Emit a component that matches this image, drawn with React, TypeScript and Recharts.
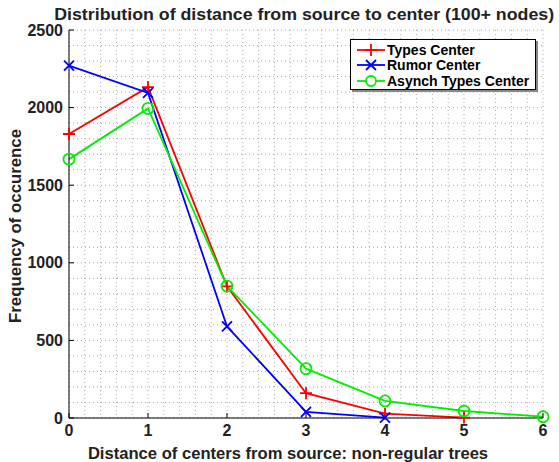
import { LineChart, Line, XAxis, YAxis, CartesianGrid } from 'recharts';

// distance of center from source vs. how often it happened
const distance = [0, 1, 2, 3, 4, 5, 6];
const typesCenter = [1830, 2132, 848, 160, 28, 3, null];
const rumorCenter = [2270, 2095, 590, 40, 3, null, null];
const asynchTypesCenter = [1668, 1995, 850, 318, 110, 45, 8];

const xTicks = [0, 1, 2, 3, 4, 5, 6];
const yTicks = [0, 500, 1000, 1500, 2000, 2500];
// matlab style minor grid
const xGrid = Array.from({ length: 31 }, (_, i) => i * 0.2);
const yGrid = Array.from({ length: 26 }, (_, i) => i * 100);

const data = distance.map((d, i) => ({
  d,
  types: typesCenter[i],
  rumor: rumorCenter[i],
  asynch: asynchTypesCenter[i],
}));

const font = '"Liberation Sans", Arial, sans-serif';
const RED = '#ff0000';
const BLUE = '#0000ff';
const GREEN = '#00ee00';

const plus = (color: string) => (p: any) => {
  if (p.cx == null || p.cy == null || p.value == null) return <g key={p.key ?? p.index} />;
  const { cx, cy } = p;
  return (
    <path key={p.key ?? p.index} d={`M${cx - 6},${cy}H${cx + 6}M${cx},${cy - 6}V${cy + 6}`} stroke={color} strokeWidth={1.8} fill="none" />
  );
};

const cross = (color: string) => (p: any) => {
  if (p.cx == null || p.cy == null || p.value == null) return <g key={p.key ?? p.index} />;
  const { cx, cy } = p;
  return (
    <path key={p.key ?? p.index} d={`M${cx - 5},${cy - 5}L${cx + 5},${cy + 5}M${cx - 5},${cy + 5}L${cx + 5},${cy - 5}`} stroke={color} strokeWidth={1.8} fill="none" />
  );
};

const ring = (color: string) => (p: any) => {
  if (p.cx == null || p.cy == null || p.value == null) return <g key={p.key ?? p.index} />;
  return <circle key={p.key ?? p.index} cx={p.cx} cy={p.cy} r={5.5} stroke={color} strokeWidth={1.8} fill="none" />;
};

const series = [
  { key: 'types', name: 'Types Center', color: RED, marker: 'plus' },
  { key: 'rumor', name: 'Rumor Center', color: BLUE, marker: 'cross' },
  { key: 'asynch', name: 'Asynch Types Center', color: GREEN, marker: 'ring' },
];

function LegendBox() {
  return (
    <div
      style={{
        position: 'absolute',
        left: 350,
        top: 39,
        width: 184,
        height: 49,
        border: '1px solid #000',
        background: '#fff',
        boxShadow: '2px 2px 0 #888',
        fontFamily: font,
        fontWeight: 'bold',
        fontSize: 14,
        color: '#000',
      }}
    >
      {series.map((s, i) => (
        <div key={s.key} style={{ position: 'absolute', left: 5, top: 2 + i * 15.5, height: 15, display: 'flex', alignItems: 'center', whiteSpace: 'nowrap' }}>
          <svg width={30} height={14} style={{ marginRight: 1 }}>
            <line x1={1} x2={29} y1={7} y2={7} stroke={s.color} strokeWidth={1.8} />
            {s.marker === 'plus' && <path d="M9,7H21M15,1V13" stroke={s.color} strokeWidth={1.8} />}
            {s.marker === 'cross' && <path d="M10,2L20,12M10,12L20,2" stroke={s.color} strokeWidth={1.8} />}
            {s.marker === 'ring' && <circle cx={15} cy={7} r={5} stroke={s.color} strokeWidth={1.8} fill="#fff" />}
          </svg>
          <span>{s.name}</span>
        </div>
      ))}
    </div>
  );
}

export default function App() {
  const tickStyle = { fontSize: 16, fontWeight: 'bold', fill: '#222', fontFamily: font };
  return (
    <div style={{ position: 'absolute', left: 0, top: 0, width: 559, height: 462, background: '#fff' }}>
      <div
        style={{
          position: 'absolute',
          left: 0,
          width: 559,
          paddingLeft: 49,
          boxSizing: 'border-box',
          top: 6,
          textAlign: 'center',
          fontFamily: font,
          fontWeight: 'bold',
          fontSize: 16,
          lineHeight: '18px',
          color: '#222',
          whiteSpace: 'nowrap',
        }}
      >
        <span style={{ display: 'inline-block', transform: 'scaleX(1.11)' }}>
          Distribution of distance from source to center (100+ nodes)
        </span>
      </div>
      <LineChart width={559} height={462} data={data} margin={{ top: 30, right: 16, bottom: 0, left: 0 }}>
        <CartesianGrid
          stroke="#a8a8a8"
          strokeDasharray="1 3"
          verticalCoordinatesGenerator={({ xAxis, offset }: any) =>
            xGrid.map((v) => (xAxis && typeof xAxis.scale === 'function' ? xAxis.scale(v) : offset.left + (v / 6) * offset.width))
          }
          horizontalCoordinatesGenerator={({ yAxis, offset }: any) =>
            yGrid.map((v) => (yAxis && typeof yAxis.scale === 'function' ? yAxis.scale(v) : offset.top + offset.height - (v / 2500) * offset.height))
          }
        />
        <XAxis
          dataKey="d"
          type="number"
          domain={[0, 6]}
          ticks={xTicks}
          height={44}
          tickSize={-5}
          tickMargin={12}
          stroke="#000"
          tick={tickStyle}
          interval={0}
          label={{ value: 'Distance of centers from source: non-regular trees', position: 'insideBottom', offset: 3, dx: -18, style: { ...tickStyle, fontSize: 16.6 } }}
        />
        <YAxis
          type="number"
          domain={[0, 2500]}
          ticks={yTicks}
          width={69}
          tickSize={-5}
          tickMargin={11}
          stroke="#000"
          tick={tickStyle}
          interval={0}
          label={{ value: 'Frequency of occurence', angle: -90, position: 'insideLeft', offset: 15, dy: 2, style: { ...tickStyle, fontSize: 16.8, textAnchor: 'middle' } }}
        />
        <Line dataKey="types" name="Types Center" stroke={RED} strokeWidth={1.8} dot={plus(RED)} isAnimationActive={false} />
        <Line dataKey="rumor" name="Rumor Center" stroke={BLUE} strokeWidth={1.8} dot={cross(BLUE)} isAnimationActive={false} />
        <Line dataKey="asynch" name="Asynch Types Center" stroke={GREEN} strokeWidth={1.8} dot={ring(GREEN)} isAnimationActive={false} />
      </LineChart>
      <LegendBox />
    </div>
  );
}
